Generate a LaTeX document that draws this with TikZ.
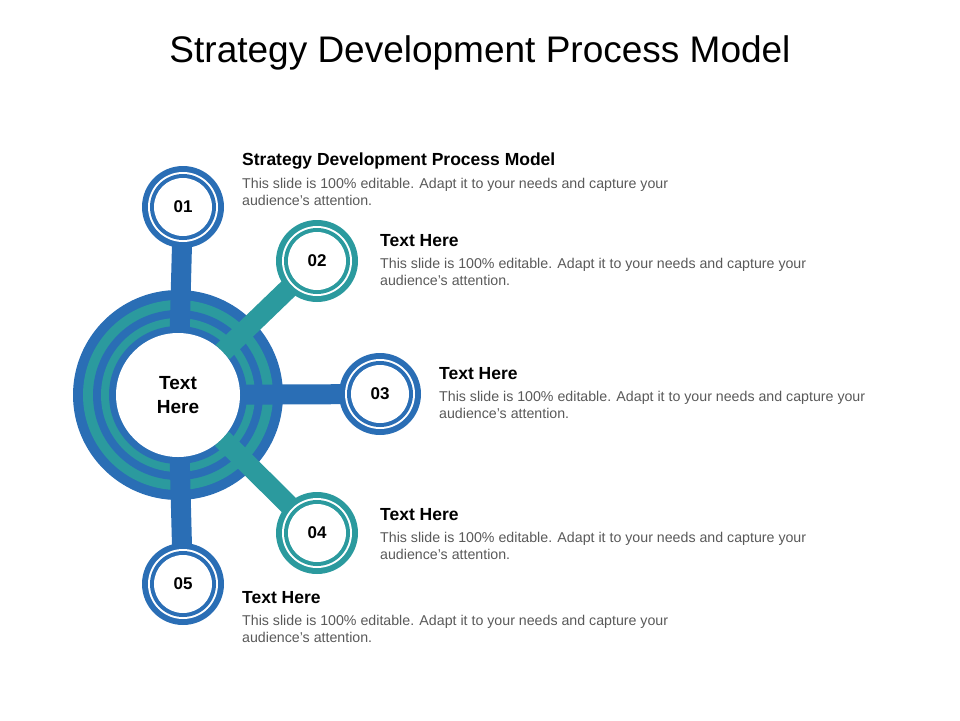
\documentclass[tikz,border=0pt]{standalone}
\usepackage{fontspec}
\setmainfont{Liberation Sans}
\usetikzlibrary{calc}
\definecolor{cblue}{HTML}{2A6EB5}
\definecolor{cteal}{HTML}{2B9A9E}
\definecolor{cgray}{HTML}{595959}
\tikzset{
  spoke/.style = {line width = 20pt},
  numtext/.style = {font = \fontsize{17}{17}\selectfont\bfseries},
  headtext/.style = {anchor = west, font = \fontsize{17.5}{17.5}\selectfont\bfseries, inner sep = 0},
  bodytext/.style = {anchor = north west, align = left, text = cgray, inner sep = 0,
    font = \fontsize{14.2}{17.5}\selectfont}
}
\newcommand{\stepring}[3]{%
  \fill[#3] (#2) circle (41);
  \fill[white] (#2) circle (35);
  \fill[#3] (#2) circle (33);
  \fill[white] (#2) circle (29);
  \node[numtext] (n#1) at (#2) {#1};}
\newcommand{\stepinfo}[3]{%
  \node[headtext] (h#1) at (#2) {#3};
  \node[bodytext] (b#1) at ($(h#1.west) + (0, 17)$) {This slide is 100\% editable. Adapt it to your needs and capture your\\audience's attention.};}
\begin{document}
\begin{tikzpicture}[x = 1pt, y = -1pt, line cap = butt]
  \useasboundingbox (0, 0) rectangle (960, 720);
  \node[font = \fontsize{37}{37}\selectfont] (title) at (480, 53) {Strategy Development Process Model};

  \coordinate (C) at (178, 395);
  \coordinate (P1) at (183, 207);
  \coordinate (P2) at (317, 261);
  \coordinate (P3) at (380, 394);
  \coordinate (P4) at (317, 533);
  \coordinate (P5) at (183, 584);

  % hub rings
  \fill[cblue] (C) circle (105);
  \fill[cteal] (C) circle (95);
  \fill[cblue] (C) circle (85);
  \fill[cteal] (C) circle (77);
  \fill[cblue] (C) circle (69);

  % spokes
  \draw[spoke, cblue] ($(C)!62pt!(P1)$) -- (P1);
  \draw[spoke, cteal] ($(C)!62pt!(P2)$) -- (P2);
  \draw[spoke, cblue] ($(C)!62pt!(P3)$) -- (P3);
  \draw[spoke, cteal] ($(C)!62pt!(P4)$) -- (P4);
  \draw[spoke, cblue] ($(C)!62pt!(P5)$) -- (P5);

  \fill[white] (C) circle (62);
  \node[font = \fontsize{19}{24}\selectfont\bfseries, align = center] (hub) at (C) {Text\\Here};

  \stepring{01}{P1}{cblue}
  \stepring{02}{P2}{cteal}
  \stepring{03}{P3}{cblue}
  \stepring{04}{P4}{cteal}
  \stepring{05}{P5}{cblue}

  \stepinfo{01}{242, 161}{Strategy Development Process Model}
  \stepinfo{02}{380, 241}{Text Here}
  \stepinfo{03}{439, 374}{Text Here}
  \stepinfo{04}{380, 515}{Text Here}
  \stepinfo{05}{242, 598}{Text Here}
\end{tikzpicture}
\end{document}
